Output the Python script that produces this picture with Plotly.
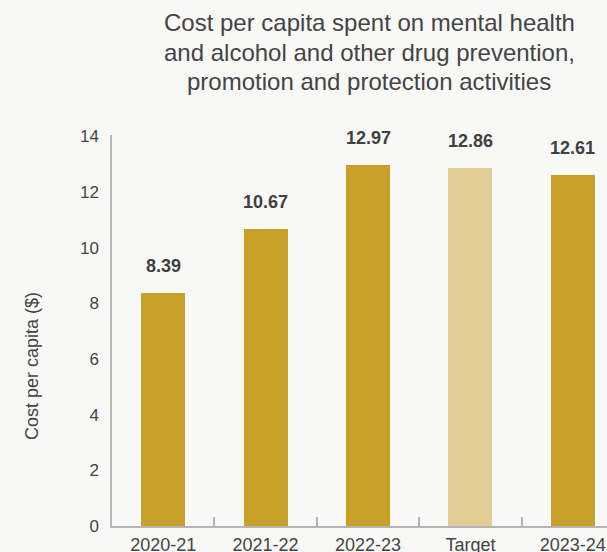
import plotly.graph_objects as go

# Chart data
categories = ["2020-21", "2021-22", "2022-23", "Target", "2023-24"]
values = [8.39, 10.67, 12.97, 12.86, 12.61]
bar_colors = ["#c9a02a", "#c9a02a", "#c9a02a", "#e3cd96", "#c9a02a"]
y_ticks = [0, 2, 4, 6, 8, 10, 12, 14]
title_lines = [
    "Cost per capita spent on mental health",
    "and alcohol and other drug prevention,",
    "promotion and protection activities",
]
y_title = "Cost per capita ($)"

W, H = 607, 552
M_L, M_R, M_T, M_B = 112, 0, 135, 26
plot_h = H - M_T - M_B

FONT = "Liberation Sans, Arial, sans-serif"
TXT = "#444444"

fig = go.Figure(
    go.Bar(
        x=categories,
        y=values,
        marker=dict(color=bar_colors, line=dict(width=0)),
        width=0.43,
        hoverinfo="x+y",
    )
)

# Value labels above each bar
for c, v in zip(categories, values):
    fig.add_annotation(
        x=c, y=v, text=f"<b>{v:.2f}</b>", showarrow=False,
        xanchor="center", yanchor="middle", yshift=27,
        font=dict(family=FONT, size=18, color="#404040"),
    )

# Title, one annotation per line
def py(px):
    return (H - M_B - px) / plot_h

title_x = (369 - M_L) / (W - M_L - M_R)
for i, line in enumerate(title_lines):
    fig.add_annotation(
        xref="paper", yref="paper", x=title_x, y=py(23 + 29 * i),
        text=line, showarrow=False, xanchor="center", yanchor="middle",
        font=dict(family=FONT, size=24, color=TXT),
    )

# Y axis title
fig.add_annotation(
    xref="paper", yref="paper",
    x=(32 - M_L) / (W - M_L - M_R), y=py(366),
    text=y_title, textangle=-90, showarrow=False,
    xanchor="center", yanchor="middle",
    font=dict(family=FONT, size=18, color=TXT),
)

fig.update_layout(
    width=W, height=H,
    margin=dict(l=M_L, r=M_R, t=M_T, b=M_B, autoexpand=False),
    paper_bgcolor="#f8f8f6", plot_bgcolor="#f8f8f6",
    showlegend=False,
    bargap=0,
    font=dict(family=FONT, color=TXT),
)
fig.update_xaxes(
    type="category", range=[-0.5, 4.334],
    showline=True, linecolor="#b5b5b5", linewidth=1.5,
    ticks="inside", ticklen=9, tickcolor="#b5b5b5", tickwidth=1.5,
    tickson="boundaries", showgrid=False, zeroline=False,
    tickfont=dict(family=FONT, size=18, color=TXT),
    ticklabelstandoff=2,
)
fig.update_yaxes(
    range=[0, 14.05], tickvals=y_ticks,
    showline=True, linecolor="#b5b5b5", linewidth=1.5,
    ticks="", showgrid=False, zeroline=False,
    tickfont=dict(family=FONT, size=17, color=TXT),
    ticklabelstandoff=8,
)

fig.write_html("out.html")
